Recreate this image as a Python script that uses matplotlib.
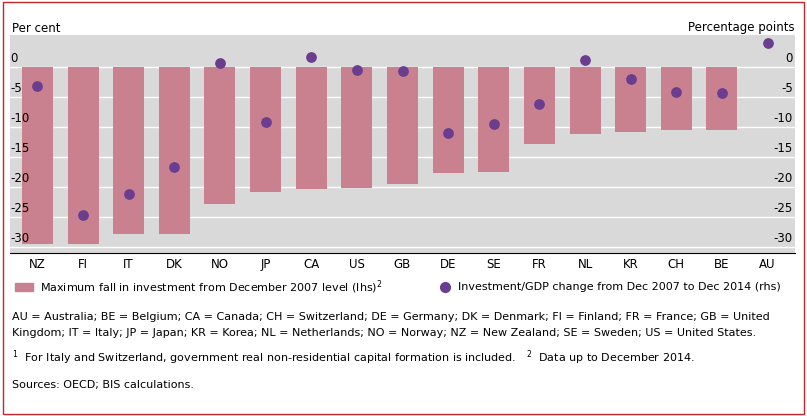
import matplotlib
matplotlib.use("Agg")
import matplotlib.pyplot as plt
from matplotlib.patches import Rectangle

countries = ["NZ", "FI", "IT", "DK", "NO", "JP", "CA", "US", "GB", "DE", "SE", "FR", "NL", "KR", "CH", "BE", "AU"]
max_fall = [-29.5, -29.5, -27.8, -27.8, -22.8, -20.8, -20.3, -20.2, -19.5, -17.7, -17.5, -12.9, -11.2, -10.8, -10.6, -10.6, 0]
gdp_change = [-3.2, -24.7, -21.2, -16.7, 0.7, -9.2, 1.7, -0.5, -0.7, -11.0, -9.5, -6.2, 1.2, -2.0, -4.2, -4.3, 4.0]

W, H = 807, 416
fig = plt.figure(figsize=(W / 100, H / 100), dpi=100)
fig.patches.append(Rectangle((0.004, 0.004), 0.992, 0.992, transform=fig.transFigure,
                             fill=False, edgecolor="#c0282d", linewidth=1))

ax = fig.add_axes([10 / W, 1 - 253 / H, 785 / W, 218 / H])
ax.set_facecolor("#d9d9d9")
x = range(len(countries))
ax.bar(x, max_fall, width=0.68, color="#c9808f", zorder=2)
ax.scatter(x, gdp_change, s=45, color="#6a3d8f", zorder=3)
ax.set_xlim(-0.6, len(countries) - 0.4)
ax.set_ylim(-31, 5.3)
ax.set_yticks([0, -5, -10, -15, -20, -25, -30])
ax.grid(axis="y", color="white", linewidth=1, zorder=1)
ax.set_xticks(list(x))
ax.set_xticklabels(countries, fontsize=8.5)
for s in ["top", "left", "right"]:
    ax.spines[s].set_visible(False)
ax.tick_params(axis="y", length=0, left=False, labelleft=False)
ax.tick_params(axis="x", length=0)
for v in [0, -5, -10, -15, -20, -25, -30]:
    ax.text(-0.6, v + 0.3, f"{v}", fontsize=8.5, va="bottom", ha="left")
    ax.text(len(countries) - 0.45, v + 0.3, f"{v}", fontsize=8.5, va="bottom", ha="right")

fig.text(12 / W, 1 - 28 / H, "Per cent", fontsize=8.5, va="center")
fig.text(795 / W, 1 - 28 / H, "Percentage points", fontsize=8.5, va="center", ha="right")

fig.patches.append(Rectangle((15 / W, 1 - 291 / H), 18 / W, 8 / H, transform=fig.transFigure,
                             color="#c9808f"))
fig.text(40 / W, 1 - 287 / H, "Maximum fall in investment from December 2007 level (lhs)$^2$",
         fontsize=8, va="center")
fig.lines.append(plt.Line2D([445 / W], [1 - 287 / H], marker="o", color="#6a3d8f",
                            markersize=7, transform=fig.transFigure))
fig.text(458 / W, 1 - 287 / H, "Investment/GDP change from Dec 2007 to Dec 2014 (rhs)",
         fontsize=8, va="center")

fig.text(12 / W, 1 - 317 / H,
         "AU = Australia; BE = Belgium; CA = Canada; CH = Switzerland; DE = Germany; DK = Denmark; FI = Finland; FR = France; GB = United",
         fontsize=8, va="center")
fig.text(12 / W, 1 - 333 / H,
         "Kingdom; IT = Italy; JP = Japan; KR = Korea; NL = Netherlands; NO = Norway; NZ = New Zealand; SE = Sweden; US = United States.",
         fontsize=8, va="center")
fig.text(12 / W, 1 - 358 / H,
         "$^1$  For Italy and Switzerland, government real non-residential capital formation is included.   $^2$  Data up to December 2014.",
         fontsize=8, va="center")
fig.text(12 / W, 1 - 385 / H, "Sources: OECD; BIS calculations.", fontsize=8, va="center")

fig.savefig("out.png", dpi=100)
